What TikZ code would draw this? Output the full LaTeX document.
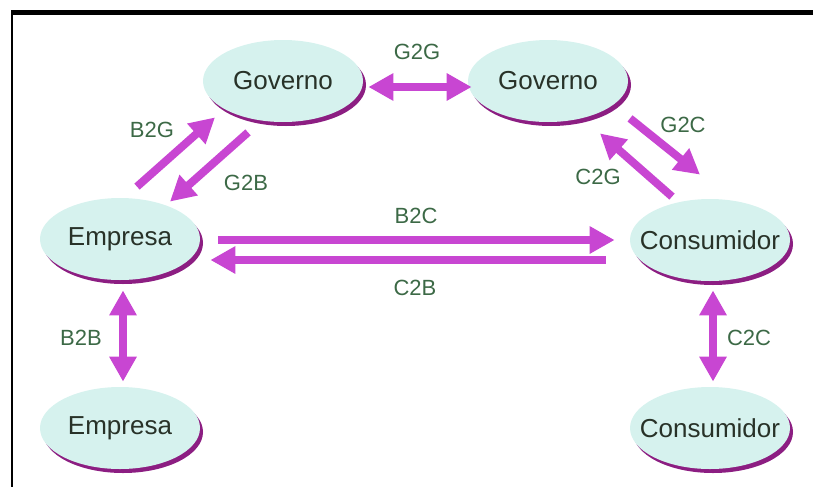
\documentclass[tikz,border=0pt]{standalone}
\usepackage{fontspec}
\setmainfont{Liberation Sans}
\usetikzlibrary{shapes.geometric,arrows.meta,shadows}
\definecolor{entfill}{RGB}{214,242,238}
\definecolor{entshadow}{RGB}{140,30,130}
\definecolor{arrc}{RGB}{200,70,210}
\definecolor{lblc}{RGB}{60,105,70}
\definecolor{entc}{RGB}{40,50,40}
\tikzset{
  ent/.style={ellipse,fill=entfill,minimum width=80pt,minimum height=41pt,inner xsep=-45pt,inner ysep=0pt,
    text=entc,font=\fontsize{13}{15}\selectfont,
    drop shadow={shadow xshift=1.5pt,shadow yshift=-2pt,fill=entshadow,opacity=1}},
  lbl/.style={text=lblc,font=\fontsize{11}{13}\selectfont,inner sep=1pt},
  arr/.style={line width=4pt,draw=arrc,>={Triangle[length=12.5pt,width=13pt]}}
}
\begin{document}
\begin{tikzpicture}[x=0.5pt,y=-0.5pt]
\useasboundingbox (0,0) rectangle (813,487);
\draw[line width=2.5pt] (11,12) -- (813,12);
\draw[line width=1pt] (12,12) -- (12,487);
\foreach \n/\x/\y/\t in {govl/283/81/Governo,govr/548/81/Governo,emp/120/239/Empresa,
  con/710/240/Consumidor,empb/120/428/Empresa,conb/710/428/Consumidor}
\node[ent] (\n) at (\x,\y) {\t};
\foreach \n/\x/\y/\t in {lg2g/417/52/G2G,lb2g/152/130/B2G,lg2b/246/183/G2B,lb2c/416/216/B2C,
  lc2b/415/288/C2B,lg2c/683/125/G2C,lc2g/598/177/C2G,lb2b/81/338/B2B,lc2c/749/338/C2C}
\node[lbl] (\n) at (\x,\y) {\t};
\draw[arr,<->] ([xshift=2.5pt,yshift=-3pt]govl.east) -- ([xshift=2pt,yshift=-3pt]govr.west);
\draw[arr,->] ([xshift=8.5pt,yshift=5.5pt]emp.north) -- ([xshift=-34pt,yshift=2.5pt]govl.south);
\draw[arr,->] ([xshift=-17.5pt,yshift=-5pt]govl.south) -- ([xshift=25pt,yshift=-2pt]emp.north);
\draw[arr,->] ([xshift=9pt,yshift=-0.5pt]emp.east) -- ([xshift=-7.5pt]con.west);
\draw[arr,->] ([xshift=-12pt,yshift=-10pt]con.west) -- ([xshift=5pt,yshift=-10.5pt]emp.east);
\draw[arr,->] ([xshift=41pt,yshift=2pt]govr.south) -- ([xshift=-5pt,yshift=12pt]con.north);
\draw[arr,->] ([xshift=-19pt,yshift=1pt]con.north) -- ([xshift=26pt,yshift=-5.5pt]govr.south);
\draw[arr,<->] ([xshift=1.5pt,yshift=-5pt]emp.south) -- ([xshift=1.5pt,yshift=2.5pt]empb.north);
\draw[arr,<->] ([xshift=1.5pt,yshift=-4.5pt]con.south) -- ([xshift=1.5pt,yshift=2.5pt]conb.north);
\end{tikzpicture}
\end{document}
